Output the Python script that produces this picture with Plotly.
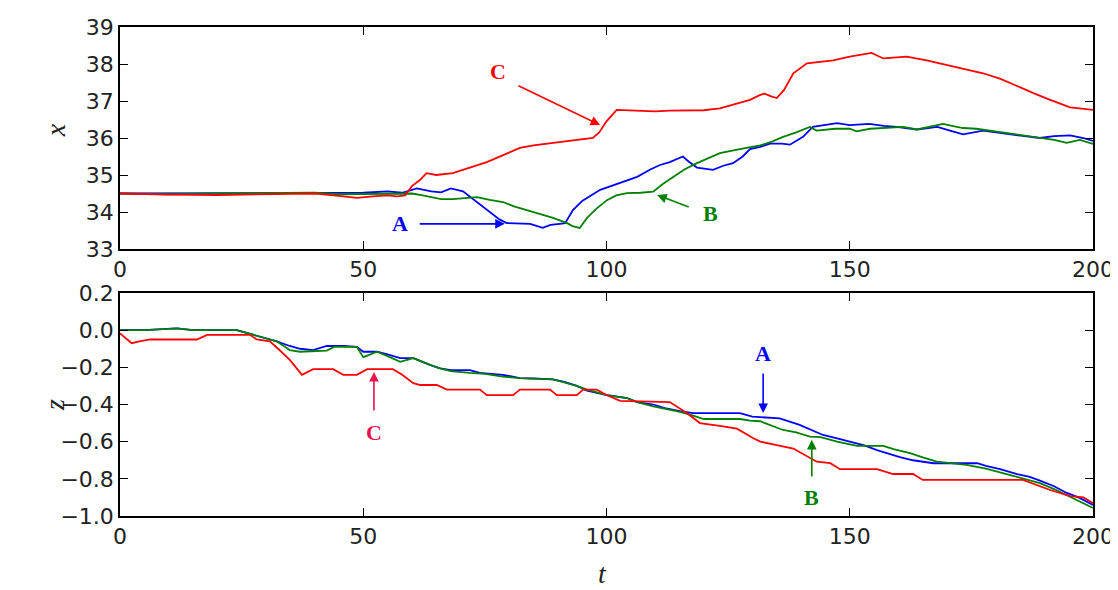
import plotly.graph_objects as go
from plotly.subplots import make_subplots

# ---------------- data ----------------
# top panel: x(t)
tA_top = [0, 10, 20, 30, 40, 45, 50, 55, 58, 61, 64, 66, 68, 70.5, 73, 75.5, 78, 79.5, 82, 84.3, 86.9, 88.5,
          90.4, 91.5, 93.1, 95, 98.7, 102, 106.3, 109, 111, 113, 115.7, 117, 118.6, 121.9, 124, 126, 128, 129.5,
          131.6, 133.6, 136, 137.7, 140.4, 142.4, 145, 147.4, 150, 154, 157, 159.6, 163.8, 168, 170.6, 173.3,
          177.4, 180, 183, 186, 189, 192, 195.3, 198, 200]
xA = [34.5, 34.5, 34.52, 34.5, 34.5, 34.5, 34.52, 34.56, 34.52, 34.64, 34.56, 34.53, 34.64, 34.56, 34.3, 34.05,
      33.8, 33.7, 33.7, 33.68, 33.57, 33.65, 33.68, 33.7, 34.05, 34.3, 34.6, 34.75, 34.95, 35.15, 35.27, 35.35,
      35.5, 35.35, 35.2, 35.14, 35.25, 35.32, 35.5, 35.7, 35.76, 35.85, 35.85, 35.82, 36.03, 36.3, 36.35, 36.4,
      36.35, 36.38, 36.33, 36.3, 36.23, 36.3, 36.2, 36.1, 36.2, 36.15, 36.1, 36.05, 36.0, 36.05, 36.07, 36.0, 35.92]

tB_top = [0, 10, 20, 30, 40, 45, 50, 55, 58, 60, 61.7, 64, 66, 68.4, 71, 73.4, 76, 78.7, 81, 83.6, 86, 89, 91.9,
          93, 94.5, 96, 98, 100.1, 102, 104.2, 107, 109.6, 111.5, 113.7, 116, 118.6, 121, 123.3, 127.4, 131.6,
          134, 136.3, 139, 141.8, 143.2, 147, 150, 151.4, 154.2, 158, 161, 163.8, 166.5, 169.2, 171, 173.3, 176,
          178.8, 181.5, 184.4, 187, 189, 192, 194.6, 197.3, 200]
xB = [34.5, 34.48, 34.5, 34.5, 34.52, 34.48, 34.48, 34.5, 34.5, 34.5, 34.46, 34.4, 34.35, 34.35, 34.38, 34.4,
      34.33, 34.27, 34.15, 34.05, 33.95, 33.84, 33.7, 33.62, 33.57, 33.84, 34.1, 34.32, 34.45, 34.51, 34.52,
      34.55, 34.75, 34.95, 35.15, 35.32, 35.45, 35.59, 35.7, 35.8, 35.9, 36.03, 36.15, 36.3, 36.2, 36.25, 36.25,
      36.18, 36.25, 36.28, 36.3, 36.23, 36.3, 36.38, 36.33, 36.27, 36.25, 36.2, 36.15, 36.1, 36.05, 36.0, 35.95,
      35.87, 35.95, 35.84]

tC_top = [0, 5, 10, 20, 30, 40, 44, 47, 48.7, 52, 55, 57, 58.6, 60, 61.7, 63, 65, 68.4, 72, 75.4, 79, 82.2, 85,
          89, 93, 97.2, 98.5, 100, 102.1, 106, 110, 113, 116.5, 120, 123.3, 127.4, 129.5, 131.5, 132.5, 134, 135,
          136.5, 138.4, 141.2, 143.5, 146.6, 150, 152.5, 154.5, 156.9, 159, 161.7, 165.8, 169, 172, 177.4, 181,
          184.4, 188, 191.2, 195.3, 200]
xC = [34.5, 34.48, 34.47, 34.46, 34.48, 34.5, 34.45, 34.4, 34.38, 34.42, 34.45, 34.42, 34.45, 34.7, 34.87, 35.05,
      35.0, 35.05, 35.2, 35.35, 35.55, 35.73, 35.8, 35.86, 35.92, 36.0, 36.15, 36.45, 36.76, 36.75, 36.72, 36.74,
      36.74, 36.75, 36.8, 36.94, 37.03, 37.16, 37.2, 37.12, 37.08, 37.3, 37.75, 38.02, 38.05, 38.1, 38.2, 38.25,
      38.3, 38.15, 38.18, 38.2, 38.1, 38.0, 37.9, 37.75, 37.6, 37.4, 37.2, 37.03, 36.83, 36.76]

# bottom panel: z(t)
tA_bot = [0, 5, 11.7, 15, 20, 24, 28.1, 32.2, 34.9, 37, 39.7, 42.5, 45.9, 48.7, 50, 52.8, 55, 57.6, 60.3, 63.7,
          65.8, 68, 71.9, 74, 78.7, 82.2, 85, 89, 91.5, 93.9, 96, 100.1, 104.2, 106.3, 109.6, 112, 115.1, 117.8,
          122, 127.4, 130, 133, 135.6, 139.7, 142, 144.5, 147, 150, 153, 155.6, 160.3, 163, 167.2, 172, 176.2,
          178, 180.9, 184.4, 187, 189.1, 192, 194.6, 197, 200]
zA = [0.0, 0.0, 0.01, 0.0, 0.0, 0.0, -0.03, -0.06, -0.085, -0.1, -0.107, -0.085, -0.085, -0.09, -0.116, -0.116,
      -0.13, -0.15, -0.15, -0.187, -0.205, -0.215, -0.215, -0.23, -0.24, -0.258, -0.26, -0.265, -0.28, -0.3,
      -0.326, -0.35, -0.365, -0.387, -0.4, -0.42, -0.435, -0.446, -0.446, -0.446, -0.465, -0.47, -0.475, -0.51,
      -0.535, -0.564, -0.58, -0.6, -0.62, -0.645, -0.683, -0.7, -0.716, -0.716, -0.716, -0.73, -0.748, -0.775,
      -0.79, -0.81, -0.84, -0.876, -0.9, -0.94]

tB_bot = [0, 5, 11.7, 15, 20, 24, 28.1, 32.2, 34.9, 37, 42.5, 44, 48.7, 50, 51.5, 52.8, 55, 57.6, 60.3, 63.7,
          65.8, 68, 71.9, 75, 78.7, 82.2, 89, 93.9, 96, 100.1, 104.2, 106.3, 109.6, 115.1, 117.8, 120, 127.4,
          129.5, 131.6, 136.3, 139, 141.8, 144, 147.4, 151.5, 156.9, 159, 162.4, 165, 167.9, 174, 178, 183, 186,
          189.1, 192, 194.6, 197, 200]
zB = [0.0, 0.0, 0.01, 0.0, 0.0, 0.0, -0.03, -0.06, -0.107, -0.116, -0.11, -0.09, -0.09, -0.145, -0.13, -0.116,
      -0.14, -0.17, -0.15, -0.187, -0.205, -0.22, -0.23, -0.235, -0.25, -0.258, -0.265, -0.3, -0.32, -0.35,
      -0.365, -0.387, -0.41, -0.44, -0.46, -0.478, -0.478, -0.487, -0.49, -0.537, -0.55, -0.573, -0.575, -0.6,
      -0.623, -0.623, -0.64, -0.662, -0.685, -0.708, -0.725, -0.745, -0.78, -0.8, -0.823, -0.855, -0.887, -0.92,
      -0.957]

tC_bot = [0, 1, 2.4, 4, 6.2, 10, 15.8, 17.9, 22, 26.7, 28.1, 30.8, 32.5, 34.9, 37.4, 39.7, 43.8, 45.9, 48.7, 50.8,
          56.1, 58, 60.3, 61.7, 65.1, 67.2, 74, 75.4, 80.8, 82.2, 88.4, 89.8, 93.9, 95.2, 98, 100.1, 102.8, 111.6,
          113, 116.5, 119.2, 123.3, 126.8, 130.1, 131.6, 135, 138.4, 143.2, 146, 148, 155.6, 158.9, 163, 165,
          185.6, 191.2, 195.3, 198, 200]
zC = [-0.017, -0.04, -0.07, -0.06, -0.05, -0.05, -0.05, -0.025, -0.025, -0.025, -0.05, -0.06, -0.1, -0.16, -0.24,
      -0.21, -0.21, -0.24, -0.24, -0.21, -0.21, -0.24, -0.285, -0.295, -0.295, -0.32, -0.32, -0.35, -0.35, -0.32,
      -0.32, -0.35, -0.35, -0.32, -0.32, -0.35, -0.38, -0.387, -0.387, -0.446, -0.5, -0.515, -0.53, -0.58, -0.6,
      -0.618, -0.637, -0.708, -0.716, -0.748, -0.748, -0.774, -0.774, -0.806, -0.806, -0.86, -0.893, -0.9, -0.93]

x_ticks = [0, 50, 100, 150, 200]
top_ticks = [33, 34, 35, 36, 37, 38, 39]
bot_ticks = [-1.0, -0.8, -0.6, -0.4, -0.2, 0.0, 0.2]

# ---------------- figure ----------------
BLUE, GREEN, RED = "#0000ff", "#008000", "#ff0000"
RED2 = "#e8144f"

fig = make_subplots(rows=2, cols=1, shared_xaxes=False, vertical_spacing=0.09)

lw = 1.8
fig.add_trace(go.Scatter(x=tA_top, y=xA, mode="lines", line=dict(color=BLUE, width=lw)), row=1, col=1)
fig.add_trace(go.Scatter(x=tB_top, y=xB, mode="lines", line=dict(color=GREEN, width=lw)), row=1, col=1)
fig.add_trace(go.Scatter(x=tC_top, y=xC, mode="lines", line=dict(color=RED, width=lw)), row=1, col=1)
fig.add_trace(go.Scatter(x=tA_bot, y=zA, mode="lines", line=dict(color=BLUE, width=lw)), row=2, col=1)
fig.add_trace(go.Scatter(x=tB_bot, y=zB, mode="lines", line=dict(color=GREEN, width=lw)), row=2, col=1)
fig.add_trace(go.Scatter(x=tC_bot, y=zC, mode="lines", line=dict(color=RED, width=lw)), row=2, col=1)

tickfont = dict(family="DejaVu Sans", size=22, color="#222222")
axis_common = dict(showline=True, linecolor="black", linewidth=1.5, mirror="ticks", ticks="inside",
                   ticklen=8, tickwidth=1.2, tickcolor="black", showgrid=False, zeroline=False,
                   tickfont=tickfont, automargin=False)

fig.update_xaxes(range=[0, 200], tickvals=x_ticks, **axis_common)
fig.update_yaxes(range=[33, 39], tickvals=top_ticks, row=1, col=1, **axis_common)
fig.update_yaxes(range=[-1.0, 0.2], tickvals=bot_ticks, tickformat=".1f", row=2, col=1, **axis_common)
fig.update_layout(
    xaxis=dict(domain=[0, 1]), xaxis2=dict(domain=[0, 1]),
    yaxis=dict(domain=[0.546, 1.0]), yaxis2=dict(domain=[0.0, 0.456]),
)

ann_font = lambda c: dict(family="Liberation Serif", size=22, color=c)


def label(text, x, y, color, xref, yref):
    fig.add_annotation(x=x, y=y, xref=xref, yref=yref, text="<b>%s</b>" % text, showarrow=False,
                       xanchor="center", yanchor="middle", font=ann_font(color))


def arrow(x0, y0, x1, y1, color, xref, yref):
    fig.add_annotation(x=x1, y=y1, ax=x0, ay=y0, xref=xref, yref=yref, axref=xref, ayref=yref,
                       text="", showarrow=True, arrowhead=2, arrowsize=1.2, arrowwidth=1.6,
                       arrowcolor=color)


# top annotations
label("C", 77.7, 37.8, RED, "x", "y")
arrow(81.6, 37.43, 98.7, 36.35, RED, "x", "y")
label("A", 57.6, 33.68, BLUE, "x", "y")
arrow(61.3, 33.68, 79.1, 33.68, BLUE, "x", "y")
label("B", 121.3, 33.95, GREEN, "x", "y")
arrow(117.2, 34.12, 110.4, 34.46, GREEN, "x", "y")

# bottom annotations
label("C", 52.2, -0.553, RED2, "x2", "y2")
arrow(52.2, -0.44, 52.2, -0.225, RED2, "x2", "y2")
label("A", 132.2, -0.123, BLUE, "x2", "y2")
arrow(132.2, -0.225, 132.2, -0.446, BLUE, "x2", "y2")
label("B", 142.2, -0.903, GREEN, "x2", "y2")
arrow(142.2, -0.795, 142.2, -0.59, GREEN, "x2", "y2")

# axis titles
title_font = dict(family="Liberation Serif", size=28, color="#222222")
fig.add_annotation(x=-0.0668, y=0.789, xref="paper", yref="paper", text="<i>x</i>", showarrow=False,
                   xanchor="center", yanchor="middle", textangle=-90, font=title_font)
fig.add_annotation(x=-0.0668, y=0.227, xref="paper", yref="paper", text="<i>z</i>", showarrow=False,
                   xanchor="center", yanchor="middle", textangle=-90, font=title_font)
fig.add_annotation(x=0.496, y=-0.117, xref="paper", yref="paper", text="<i>t</i>", showarrow=False,
                   xanchor="center", yanchor="middle", borderpad=0, font=title_font)

# the page body adds an 8px offset, so the figure is sized/margined to land at the reference position
fig.update_layout(width=1110, height=582, margin=dict(l=112, r=25, t=19, b=74, autoexpand=False),
                  plot_bgcolor="white", paper_bgcolor="white", showlegend=False)

fig.write_html("out.html")
